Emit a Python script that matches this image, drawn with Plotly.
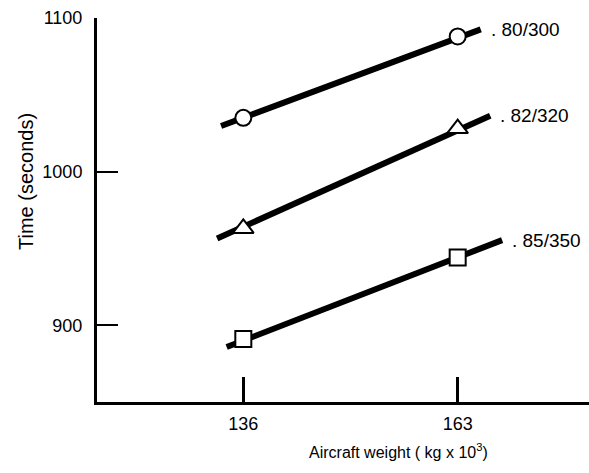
import plotly.graph_objects as go

# ---- data ----
weights = [136, 163]                      # aircraft weight (kg x 10^3)
series_labels = ["80/300", "82/320", "85/350"]
series_symbols = ["circle", "triangle-up", "square"]
time_80_300 = [1035, 1088]
time_82_320 = [963, 1028]
time_85_350 = [891, 944]
series_times = [time_80_300, time_82_320, time_85_350]

# extent of the drawn trend lines (x, y at each end)
line_start_x = [133.2, 132.7, 133.9]
line_start_y = [1029.7, 956.5, 885.8]
line_end_x = [165.9, 167.1, 168.6]
line_end_y = [1092.6, 1036.3, 955.4]

y_ticks = [900, 1000, 1100]
x_ticks = [136, 163]

FONT = "Liberation Sans, Arial, sans-serif"

fig = go.Figure()
for i, lab in enumerate(series_labels):
    fig.add_trace(go.Scatter(
        x=[line_start_x[i], line_end_x[i]],
        y=[line_start_y[i], line_end_y[i]],
        mode="lines", line=dict(color="black", width=6),
        showlegend=False, hoverinfo="skip", cliponaxis=False))
    sym = series_symbols[i]
    size = 18 if sym == "triangle-up" else 16
    fig.add_trace(go.Scatter(
        x=weights, y=series_times[i], mode="markers",
        marker=dict(symbol=sym, size=size, color="white",
                    line=dict(color="black", width=2)),
        showlegend=False, cliponaxis=False, name=lab))
    fig.add_annotation(x=line_end_x[i], y=line_end_y[i], text=". " + lab,
                       xanchor="left", yanchor="middle", xshift=8, showarrow=False,
                       font=dict(family=FONT, size=19, color="black"))

# axis titles placed as annotations (paper pixels -> paper fractions)
W, H = 589, 473
L, R, T, B = 97, 0, 18, 71
pw, ph = W - L - R, H - T - B
fig.add_annotation(x=(398 - L) / pw, y=(H - B - 451) / ph, xref="paper", yref="paper",
                   text="Aircraft weight ( kg x 10<sup>3</sup>)", showarrow=False,
                   xanchor="center", yanchor="middle",
                   font=dict(family=FONT, size=16, color="black"))
fig.add_annotation(x=(26 - L) / pw, y=(H - B - 182) / ph, xref="paper", yref="paper",
                   text="Time (seconds)", textangle=-90, showarrow=False,
                   xanchor="center", yanchor="middle",
                   font=dict(family=FONT, size=20, color="black"))

fig.update_layout(
    width=W, height=H,
    margin=dict(l=L, r=R, t=T, b=B),
    paper_bgcolor="white", plot_bgcolor="white",
    font=dict(family=FONT, size=18, color="black"),
    xaxis=dict(range=[117.57, 179.54], tickvals=x_ticks, ticks="inside", ticklen=25,
               tickwidth=3, tickcolor="black", showline=True, linewidth=3,
               linecolor="black", showgrid=False, zeroline=False, automargin=False,
               tickfont=dict(size=18), ticklabelstandoff=3),
    yaxis=dict(range=[850, 1100], tickvals=y_ticks, ticks="inside", ticklen=21,
               tickwidth=2, tickcolor="black", showline=True, linewidth=3,
               linecolor="black", showgrid=False, zeroline=False, automargin=False,
               tickfont=dict(size=18), ticklabelstandoff=8),
)

fig.write_html("out.html", config={"displayModeBar": False},
               post_script="document.body.style.margin='0';document.body.style.overflow='hidden';")
